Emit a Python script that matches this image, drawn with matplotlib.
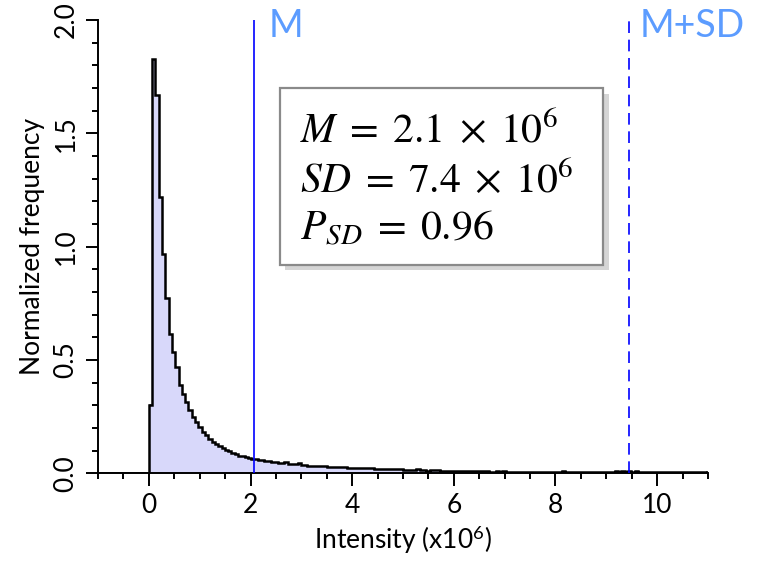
# Normalized intensity histogram with mean / mean+SD markers
import numpy as np
import matplotlib.pyplot as plt
import matplotlib.patheffects as pe
from matplotlib.patches import FancyBboxPatch
from matplotlib.ticker import MultipleLocator

plt.rcParams["font.family"] = ["Lato", "DejaVu Sans"]
plt.rcParams["mathtext.fontset"] = "custom"
plt.rcParams["mathtext.rm"] = "Lato"
plt.rcParams["mathtext.it"] = "Lato:italic"

# histogram data (intensity in units of 1e6, bin width 0.065)
bin_width = 0.065
freq = [
    0.30, 1.83, 1.67, 1.22, 0.97, 0.775, 0.615, 0.535, 0.47, 0.39,
    0.35, 0.315, 0.28, 0.25, 0.225, 0.205, 0.183, 0.168, 0.152, 0.138,
    0.13, 0.119, 0.111, 0.104, 0.097, 0.09, 0.084, 0.079, 0.075, 0.071,
    0.067, 0.064, 0.062, 0.06, 0.058, 0.055, 0.053, 0.052, 0.05, 0.048,
    0.047, 0.05, 0.044, 0.041, 0.04, 0.045, 0.038, 0.036, 0.035, 0.034,
    0.033, 0.035, 0.032, 0.031, 0.03, 0.03, 0.029, 0.028, 0.028, 0.027,
    0.026, 0.026, 0.025, 0.024, 0.026, 0.024, 0.022, 0.022, 0.021, 0.02,
    0.02, 0.019, 0.019, 0.019, 0.018, 0.018, 0.02, 0.016, 0.015, 0.015,
    0.016, 0.019, 0.017, 0.014, 0.013, 0.014, 0.017, 0.016, 0.013, 0.012,
    0.012, 0.012, 0.011, 0.011, 0.013, 0.011, 0.01, 0.012, 0.009, 0.009,
    0.009, 0.009, 0.01, 0.008, 0.008, 0.009, 0.008, 0.009, 0.007, 0.007,
    0.007, 0.007, 0.008, 0.007, 0.007, 0.006, 0.007, 0.007, 0.008, 0.007,
    0.007, 0.006, 0.007, 0.007, 0.007, 0.009, 0.007, 0.007, 0.007, 0.007,
    0.007, 0.007, 0.007, 0.007, 0.007, 0.007, 0.007, 0.007, 0.007, 0.007,
    0.008, 0.009, 0.008, 0.009, 0.008, 0.009, 0.008, 0.009, 0.007, 0.008,
    0.007, 0.008, 0.007, 0.008, 0.007, 0.007, 0.008, 0.007, 0.005, 0.005,
    0.005, 0.005, 0.006, 0.007, 0.006, 0.006, 0.006, 0.006, 0.006,
]
edges = np.arange(len(freq) + 1) * bin_width

mean_val = 2.07
mean_plus_sd = 9.44
stats_lines = [r"$M\;=\;2.1\;\times\;10^{6}$",
               r"$SD\;=\;7.4\;\times\;10^{6}$",
               r"$P_{SD}\;=\;0.96$"]

fig = plt.figure(figsize=(7.58, 5.62), dpi=100)
ax = fig.add_axes([0.1293, 0.1575, 0.8047, 0.807])

ax.stairs(freq, edges, fill=True, color="#d8d8fa", zorder=1)
ax.stairs(freq, edges, color="black", linewidth=1.8, baseline=None, zorder=2)
ax.plot([edges[0], edges[0]], [0, freq[0]], color="black", lw=1.8, zorder=2)
ax.plot([edges[-1], edges[-1]], [0, freq[-1]], color="black", lw=1.8, zorder=2)
ax.plot([-1, 0], [0, 0], color="black", lw=1.8, zorder=2)

# mean and mean + SD markers
ax.axvline(mean_val, color="#0000ff", lw=1.2, zorder=3)
ax.axvline(mean_plus_sd, color="#0000ff", lw=1.2, ls=(0, (7, 4)), zorder=3)
label_color = "#5c9cff"
ax.text(mean_val + 0.28, 1.925, "M", color=label_color, fontsize=27,
        ha="left", va="baseline")
ax.text(mean_plus_sd + 0.22, 1.925, "M+SD", color=label_color, fontsize=27,
        ha="left", va="baseline", clip_on=False)

# stats box with shadow
box = FancyBboxPatch((0.298, 0.46), 0.53, 0.39, boxstyle="square,pad=0",
                     transform=ax.transAxes, facecolor="white",
                     edgecolor="#8a8a8a", linewidth=1.6, zorder=4,
                     path_effects=[pe.SimplePatchShadow(offset=(4, -4),
                                                        shadow_rgbFace="#888888",
                                                        alpha=0.35),
                                   pe.Normal()])
ax.add_patch(box)
for y, line in zip([0.731, 0.621, 0.515], stats_lines):
    ax.text(0.331, y, line, transform=ax.transAxes, fontsize=30,
            math_fontfamily="stix", ha="left", va="baseline", zorder=5)

ax.set_xlim(-1, 11)
ax.set_ylim(0, 2.0)
ax.xaxis.set_major_locator(MultipleLocator(2))
ax.xaxis.set_minor_locator(MultipleLocator(0.5))
ax.yaxis.set_major_locator(MultipleLocator(0.5))
ax.yaxis.set_minor_locator(MultipleLocator(0.1))
ax.set_yticks([0.0, 0.5, 1.0, 1.5, 2.0])
ax.set_yticklabels(["0.0", "0.5", "1.0", "1.5", "2.0"], rotation=90, va="center")

ax.tick_params(which="major", direction="out", length=9, width=1.4,
               labelsize=19, pad=5)
ax.tick_params(which="minor", direction="out", length=4.5, width=1.4)
for side in ["top", "right"]:
    ax.spines[side].set_visible(False)
for side in ["left", "bottom"]:
    ax.spines[side].set_linewidth(1.4)

ax.set_xlabel(r"Intensity (x10$^{6}$)", fontsize=19, labelpad=4)
ax.set_ylabel("Normalized frequency", fontsize=19, labelpad=6)

fig.savefig("out.png", dpi=100)
